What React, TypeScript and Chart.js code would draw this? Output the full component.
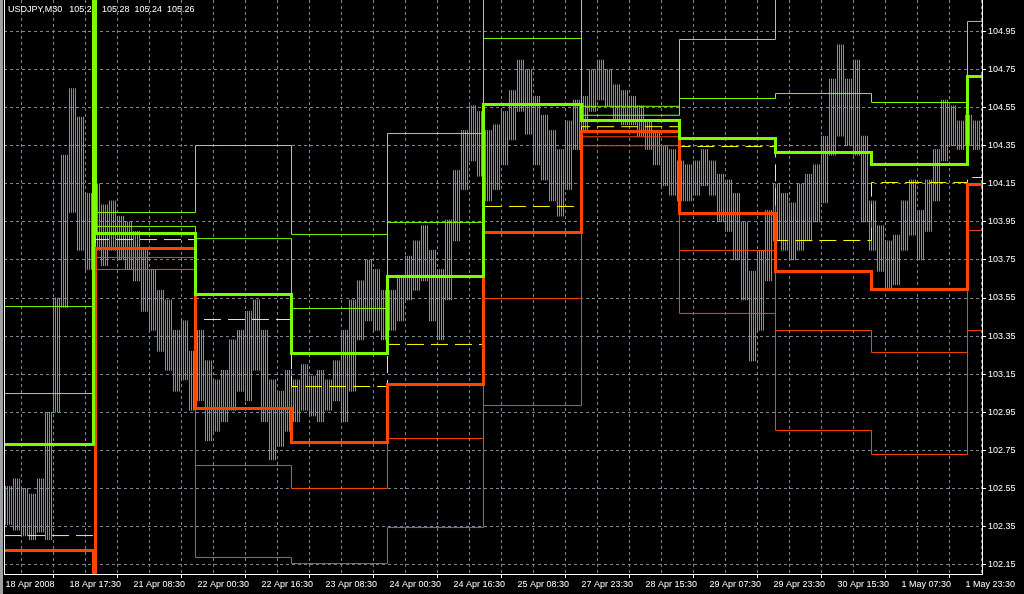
import { useEffect, useRef } from 'react';
import { Chart, registerables } from 'chart.js';

Chart.register(...registerables);

// ---- data ----
const titleParts = ['USDJPY,M30', '105.25', '105.28', '105.24', '105.26'];

const xLabels = [
  '18 Apr 2008', '18 Apr 17:30', '21 Apr 08:30', '22 Apr 00:30', '22 Apr 16:30',
  '23 Apr 08:30', '24 Apr 00:30', '24 Apr 16:30', '25 Apr 08:30', '27 Apr 23:30',
  '28 Apr 15:30', '29 Apr 07:30', '29 Apr 23:30', '30 Apr 15:30', '1 May 07:30', '1 May 23:30',
];
// bar index of every labelled tick (M30 bars)
const xLabelBars = [0, 32, 64, 96, 128, 160, 192, 224, 256, 288, 320, 352, 384, 416, 448, 480];
const xGridBars = [0, 16, 32, 48, 64, 80, 96, 112, 128, 144, 160, 176, 192, 208, 224, 240, 256, 272, 288, 304, 320, 336, 352, 368, 384, 400, 416, 432, 448, 464, 480];
const yTicks = [102.15, 102.35, 102.55, 102.75, 102.95, 103.15, 103.35, 103.55, 103.75, 103.95, 104.15, 104.35, 104.55, 104.75, 104.95];
const yMin = 102.1001;
const yMax = 105.1155;

// bar index where each daily level set starts (18 Apr .. 2 May)
const dayStart = [-0.75, 45, 95, 143, 191, 239, 288, 337, 385, 433, 481];
const firstBar = -0.75;
const lastBar = 488.25;

// daily levels, top to bottom
const level1 = [103.505, 103.999, 104.351, 103.884, 104.414, 105.46, 104.557, 104.908, 105.14, 105.12, 105.48];
const level2 = [103.048, 103.926, 103.862, 103.495, 103.947, 104.913, 104.51, 104.598, 104.624, 104.577, 105.003];
const level3 = [102.78, 103.889, 103.568, 103.258, 103.663, 104.567, 104.482, 104.388, 104.314, 104.251, 104.714];
const pivot = [102.302, 103.857, 103.437, 103.085, 103.306, 104.031, 104.45, 104.346, 103.852, 104.157, 104.183];
const level5 = [102.223, 103.81, 102.969, 102.791, 103.096, 103.894, 104.425, 103.994, 103.689, 103.595, 104.146];
const level6 = [101.945, 103.763, 102.67, 102.549, 102.812, 103.547, 104.397, 103.8, 103.379, 103.264, 103.905];
const level7 = [101.485, 103.7, 102.187, 102.155, 102.344, 102.985, 104.35, 103.469, 102.854, 102.728, 103.379];

// spikes at the 21 Apr change-over: [bar index, value]
const level3Spike = [44, 105.3];
const level5Spike = [44, 101.9];

// price bars, 4 bars per entry: low / high
const barLow = [
  102.36, 102.33, 102.3, 102.28, 102.32, 102.28, 102.95, 103.5, 104.0, 103.8, 103.7, 103.8,
  103.72, 103.8, 103.75, 103.7, 103.64, 103.48, 103.38, 103.27, 103.17, 103.06, 103.12, 102.96,
  103.01, 102.8, 102.85, 102.9, 102.96, 103.06, 103.01, 103.17, 102.9, 102.7, 102.77, 102.85,
  102.9, 102.96, 102.93, 102.9, 102.96, 103.01, 102.9, 103.06, 103.33, 103.43, 103.38, 103.33,
  103.38, 103.43, 103.54, 103.59, 103.64, 103.43, 103.33, 103.54, 103.85, 104.12, 104.27, 104.19,
  104.06, 104.12, 104.25, 104.38, 104.53, 104.41, 104.25, 104.17, 104.06, 103.98, 104.12, 104.33,
  104.43, 104.53, 104.59, 104.56, 104.48, 104.46, 104.46, 104.4, 104.33, 104.25, 104.14, 104.09,
  104.06, 104.06, 104.09, 104.14, 104.09, 103.95, 103.9, 103.75, 103.54, 103.22, 103.38, 103.64,
  103.85, 103.8, 103.75, 103.8, 103.85, 103.95, 104.05, 104.3, 104.4, 104.35, 104.3, 103.95,
  103.8, 103.69, 103.59, 103.62, 103.8, 103.88, 103.75, 103.9, 104.06, 104.27, 104.35, 104.33,
  104.35, 104.33,
];
const barHigh = [
  102.56, 102.6, 102.55, 102.52, 102.6, 102.95, 103.55, 104.3, 104.65, 104.5, 104.1, 104.15,
  104.04, 104.06, 103.98, 103.95, 103.9, 103.8, 103.7, 103.59, 103.54, 103.38, 103.43, 103.27,
  103.38, 103.22, 103.12, 103.17, 103.33, 103.38, 103.48, 103.54, 103.38, 103.12, 103.06, 103.17,
  103.12, 103.2, 103.14, 103.17, 103.12, 103.22, 103.38, 103.54, 103.64, 103.75, 103.7, 103.59,
  103.59, 103.67, 103.77, 103.85, 103.93, 103.8, 103.7, 103.96, 104.22, 104.43, 104.56, 104.53,
  104.43, 104.46, 104.53, 104.64, 104.8, 104.75, 104.61, 104.51, 104.43, 104.33, 104.48, 104.59,
  104.61, 104.75, 104.8, 104.75, 104.67, 104.64, 104.61, 104.56, 104.48, 104.43, 104.35, 104.33,
  104.27, 104.25, 104.27, 104.33, 104.27, 104.2, 104.17, 104.1, 103.95, 103.69, 103.8, 104.01,
  104.15, 104.1, 104.05, 104.15, 104.2, 104.25, 104.4, 104.7, 104.88, 104.7, 104.8, 104.4,
  104.06, 103.93, 103.85, 103.88, 104.06, 104.17, 104.01, 104.17, 104.33, 104.59, 104.56, 104.48,
  104.51, 104.48,
];
const barsPerEntry = 4;

// ---- colours / styles ----
const GREEN = '#7CFC00';
const ORANGE = '#FF4500';
const YELLOW = '#FFFF00';
const BAR = '#32CD32';
const GRID = '#778899';
const FONT = "'Liberation Sans', Arial, sans-serif";

function levelPoints(vals: number[], spike?: number[]) {
  const pts: { x: number; y: number }[] = [];
  vals.forEach((v, k) => {
    if (spike && k === 1) pts.push({ x: spike[0], y: spike[1] });
    pts.push({ x: dayStart[k], y: v });
  });
  pts.push({ x: lastBar, y: vals[vals.length - 1] });
  return pts;
}

export default function App() {
  const ref = useRef<HTMLCanvasElement | null>(null);

  useEffect(() => {
    const canvas = ref.current!;
    const ctx = canvas.getContext('2d')!;
    const pc = document.createElement('canvas');
    pc.width = 2;
    pc.height = 1;
    const pctx = pc.getContext('2d')!;
    pctx.fillStyle = BAR;
    pctx.fillRect(1, 0, 1, 1);
    const pattern = ctx.createPattern(pc, 'repeat')!;

    const bars = barLow.map((lo, g) => ({ x: g * barsPerEntry + (barsPerEntry - 1) / 2, y: [lo, barHigh[g]] }));

    const framePlugin = {
      id: 'frame',
      beforeDraw(chart: any) {
        const c = chart.ctx;
        c.save();
        c.fillStyle = '#000';
        c.fillRect(0, 0, chart.width, chart.height);
        c.restore();
      },
      beforeDatasetsDraw(chart: any) {
        const c = chart.ctx;
        c.save();
        c.font = `9px ${FONT}`;
        c.fillStyle = '#fff';
        c.textBaseline = 'middle';
        let x = 8;
        titleParts.forEach((t, i) => {
          c.fillText(t, x, 10);
          x += c.measureText(t).width + (i === 0 ? 7 : 5);
        });
        c.restore();
      },
      afterDraw(chart: any) {
        const c = chart.ctx;
        const a = chart.chartArea;
        c.save();
        c.fillStyle = '#a0a0a0';
        c.fillRect(0, 0, 3, chart.height);
        c.strokeStyle = '#fff';
        c.lineWidth = 1;
        c.beginPath();
        c.moveTo(a.left + 0.5, 0);
        c.lineTo(a.left + 0.5, a.bottom);
        c.stroke();
        c.restore();
      },
    };

    const line = (data: any, color: string, width: number, order: number, dash: number[] = []) => ({
      type: 'line',
      data,
      borderColor: color,
      borderWidth: width,
      borderDash: dash,
      stepped: true,
      pointRadius: 0,
      fill: false,
      order,
      borderCapStyle: 'butt',
      borderJoinStyle: 'miter',
    });

    const chart = new Chart(canvas, {
      type: 'bar',
      data: {
        datasets: [
          {
            type: 'bar',
            data: bars as any,
            backgroundColor: pattern as any,
            borderWidth: 0,
            barThickness: barsPerEntry * 2,
            order: 20,
          } as any,
          line(levelPoints(level1), GREEN, 1, 9),
          line(levelPoints(level2), GREEN, 1, 8),
          line(levelPoints(level7), ORANGE, 1, 7),
          line(levelPoints(level6), ORANGE, 1, 6),
          line(levelPoints(pivot), YELLOW, 1, 5, [17, 7]),
          line(levelPoints(level5, level5Spike), ORANGE, 3, 2),
          line(levelPoints(level3, level3Spike), GREEN, 3, 1),
        ] as any,
      },
      options: {
        animation: false,
        responsive: false,
        devicePixelRatio: 1,
        events: [],
        layout: { padding: { left: 4, top: 0, right: 0, bottom: 0 } },
        plugins: { legend: { display: false }, tooltip: { enabled: false } },
        scales: {
          x: {
            type: 'linear',
            min: firstBar,
            max: lastBar,
            offset: false,
            afterBuildTicks: (s: any) => {
              s.ticks = xGridBars.map((v) => ({ value: v }));
            },
            afterFit: (s: any) => {
              s.height = 20;
              s.paddingLeft = 0;
              s.paddingRight = 0;
            },
            grid: {
              color: GRID,
              lineWidth: 1,
              tickLength: 4,
              tickColor: (c: any) => (c.tick && xLabelBars.includes(c.tick.value) ? '#fff' : 'rgba(0,0,0,0)'),
              tickBorderDash: [],
            },
            border: { color: '#fff', width: 1, dash: [3, 3] },
            ticks: {
              autoSkip: false,
              maxRotation: 0,
              minRotation: 0,
              align: 'start',
              padding: 1,
              color: '#fff',
              font: { family: FONT, size: 9 },
              callback: (v: any) => {
                const k = xLabelBars.indexOf(v);
                return k >= 0 ? xLabels[k] : '';
              },
            },
          },
          y: {
            type: 'linear',
            position: 'right',
            min: yMin,
            max: yMax,
            afterBuildTicks: (s: any) => {
              s.ticks = yTicks.map((v) => ({ value: v }));
            },
            afterFit: (s: any) => {
              s.width = 42;
              s.paddingTop = 0;
              s.paddingBottom = 0;
            },
            grid: {
              color: GRID,
              lineWidth: 1,
              tickLength: 4,
              tickColor: '#fff',
              tickBorderDash: [],
            },
            border: { color: '#fff', width: 1, dash: [3, 3] },
            ticks: {
              padding: 2,
              color: '#fff',
              font: { family: FONT, size: 9 },
              callback: (v: any) => Number(v).toFixed(2),
            },
          },
        },
      } as any,
      plugins: [framePlugin],
    });

    return () => chart.destroy();
  }, []);

  return (
    <div style={{ position: 'absolute', left: 0, top: 0, width: 1024, height: 594, background: '#000' }}>
      <canvas ref={ref} width={1024} height={594} style={{ display: 'block' }} />
    </div>
  );
}
